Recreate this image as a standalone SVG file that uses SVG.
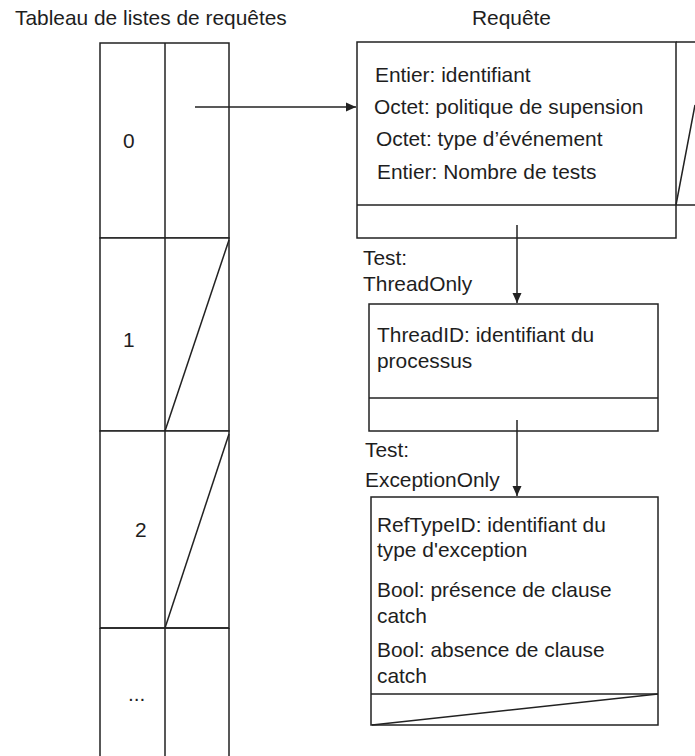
<svg xmlns="http://www.w3.org/2000/svg" width="695" height="756" viewBox="0 0 695 756">
  <style>
    .ln { stroke: #222; stroke-width: 1.5; fill: none; }
    .bx { stroke: #222; stroke-width: 1.5; fill: #fff; }
    .tx { font-family: "Liberation Sans", Arial, sans-serif; font-size: 20.9px; fill: #1e1e1e; }
  </style>
  <defs>
    <marker id="arrow" markerWidth="12" markerHeight="12" refX="10" refY="5.5" orient="auto" markerUnits="userSpaceOnUse">
      <path d="M0,1 L10,5.5 L0,10 Z" fill="#222"/>
    </marker>
  </defs>
  <rect width="695" height="756" fill="#fff"/>

  <!-- titles -->
  <text class="tx" x="15" y="25">Tableau de listes de requêtes</text>
  <text class="tx" x="472" y="25">Requête</text>

  <!-- request list table -->
  <g id="table">
    <g id="row0">
      <rect class="bx" x="100" y="43" width="129" height="195"/>
      <line class="ln" x1="165" y1="43" x2="165" y2="238"/>
      <text class="tx" x="123" y="148">0</text>
    </g>
    <g id="row1">
      <rect class="bx" x="100" y="238" width="129" height="193"/>
      <line class="ln" x1="165" y1="238" x2="165" y2="431"/>
      <line class="ln" x1="165" y1="431" x2="229" y2="240"/>
      <text class="tx" x="123" y="347">1</text>
    </g>
    <g id="row2">
      <rect class="bx" x="100" y="431" width="129" height="197"/>
      <line class="ln" x1="165" y1="431" x2="165" y2="628"/>
      <line class="ln" x1="165" y1="628" x2="229" y2="434"/>
      <text class="tx" x="135" y="537">2</text>
    </g>
    <g id="row-more">
      <path class="ln" d="M100,628 H229 M100,628 V756 M165,628 V756 M229,628 V756"/>
      <text class="tx" x="128" y="701">...</text>
    </g>
  </g>

  <!-- request record -->
  <g id="request">
    <rect class="bx" x="357" y="42" width="319" height="196"/>
    <line class="ln" x1="357" y1="205" x2="676" y2="205"/>
    <text class="tx" x="375" y="82">Entier: identifiant</text>
    <text class="tx" x="374" y="114">Octet: politique de supension</text>
    <text class="tx" x="376" y="146">Octet: type d’événement</text>
    <text class="tx" x="377" y="179">Entier: Nombre de tests</text>
  </g>

  <!-- next request, cut at the edge -->
  <g id="request-next">
    <path class="ln" d="M676,42 H695 M676,205 H695 M676,205 L695,105"/>
  </g>

  <!-- ThreadOnly test -->
  <g id="test-thread">
    <text class="tx" x="363" y="265">Test:</text>
    <text class="tx" x="363" y="291">ThreadOnly</text>
    <rect class="bx" x="369" y="304" width="289" height="127"/>
    <line class="ln" x1="369" y1="398" x2="658" y2="398"/>
    <text class="tx" x="377" y="342">ThreadID: identifiant du</text>
    <text class="tx" x="377" y="368">processus</text>
  </g>

  <!-- ExceptionOnly test -->
  <g id="test-exception">
    <text class="tx" x="365" y="457">Test:</text>
    <text class="tx" x="365" y="487">ExceptionOnly</text>
    <rect class="bx" x="371" y="497" width="287" height="228"/>
    <line class="ln" x1="371" y1="694" x2="658" y2="694"/>
    <line class="ln" x1="658" y1="694" x2="372" y2="725"/>
    <text class="tx" x="377" y="532">RefTypeID: identifiant du</text>
    <text class="tx" x="377" y="557">type d'exception</text>
    <text class="tx" x="377" y="597">Bool: présence de clause</text>
    <text class="tx" x="377" y="623">catch</text>
    <text class="tx" x="377" y="657">Bool: absence de clause</text>
    <text class="tx" x="377" y="683">catch</text>
  </g>

  <!-- connectors -->
  <g id="connectors">
    <line class="ln" x1="195" y1="107" x2="356" y2="107" marker-end="url(#arrow)"/>
    <line class="ln" x1="517" y1="225" x2="517" y2="303" marker-end="url(#arrow)"/>
    <line class="ln" x1="517" y1="420" x2="517" y2="496" marker-end="url(#arrow)"/>
  </g>
</svg>
